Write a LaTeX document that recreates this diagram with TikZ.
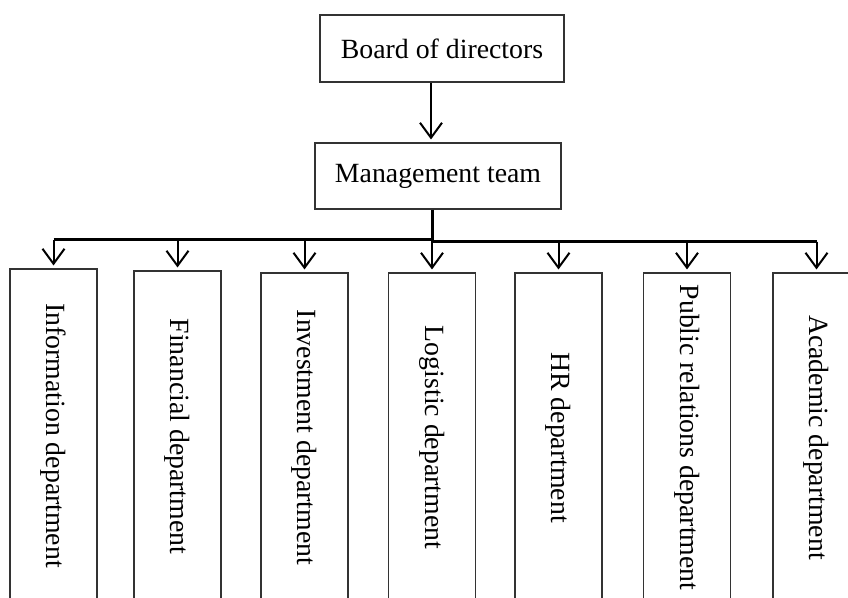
\documentclass[tikz,border=0pt]{standalone}
\usepackage{fontspec}
\setmainfont{Liberation Serif}
\usetikzlibrary{arrows.meta}
\begin{document}
\begin{tikzpicture}[x=1pt,y=-1pt,
  box/.style={draw=black!80, line width=1.1pt, fill=white, inner sep=0pt,
    font=\fontsize{27.8}{33}\selectfont},
  dept/.style={box, minimum width=87pt, minimum height=#1},
  link/.style={line width=2pt, shorten >=3pt,
    -{Straight Barb[length=15pt,width=22pt]}},
  bus/.style={line width=3pt}
]
\useasboundingbox (0,0) rectangle (848,597);
\clip (0,0) rectangle (848,597);

% top of the hierarchy
\node[box, minimum width=244pt, minimum height=67pt] (board) at (442,48.5) {Board of directors};
\node[box, minimum width=246pt, minimum height=66pt] (mgmt) at (438,176) {Management team};

% departments (boxes run on below the page edge)
\node[dept=333pt] (info)   at (53.5,435.5) {\rotatebox{-90}{Information department}};
\node[dept=331pt] (fin)    at (177.5,436.5) {\rotatebox{-90}{Financial department}};
\node[dept=329pt] (inv)    at (304.5,437.5) {\rotatebox{-90}{Investment department}};
\node[dept=329pt] (logi)   at (432,437.5) {\rotatebox{-90}{Logistic department}};
\node[dept=329pt] (hr)     at (558.5,437.5) {\rotatebox{-90}{HR department}};
\node[dept=329pt] (pr)     at (687,437.5) {\rotatebox{-90}{Public relations department}};
\node[dept=329pt] (acad)   at (816.5,437.5) {\rotatebox{-90}{Academic department}};

% junction points of the distribution bus
\coordinate (stem) at (431,0);
\coordinate (busL) at (432,239.5);
\coordinate (busR) at (432,241.5);

% board -> management
\draw[link] (board.south -| stem) -- (mgmt.north -| stem);

% management -> bus
\draw[bus] (mgmt.south -| busR) -- (busR);
\draw[bus] (info.north |- busL) -- (busL);
\draw[bus] (busR) -- (acad.north |- busR);

% bus -> departments
\draw[link] (info.north |- busL) -- (info.north);
\draw[link] (fin.north |- busL) -- (fin.north);
\draw[link] (inv.north |- busL) -- (inv.north);
\draw[link] (logi.north |- busR) -- (logi.north);
\draw[link] (hr.north |- busR) -- (hr.north);
\draw[link] (pr.north |- busR) -- (pr.north);
\draw[link] (acad.north |- busR) -- (acad.north);
\end{tikzpicture}
\end{document}
